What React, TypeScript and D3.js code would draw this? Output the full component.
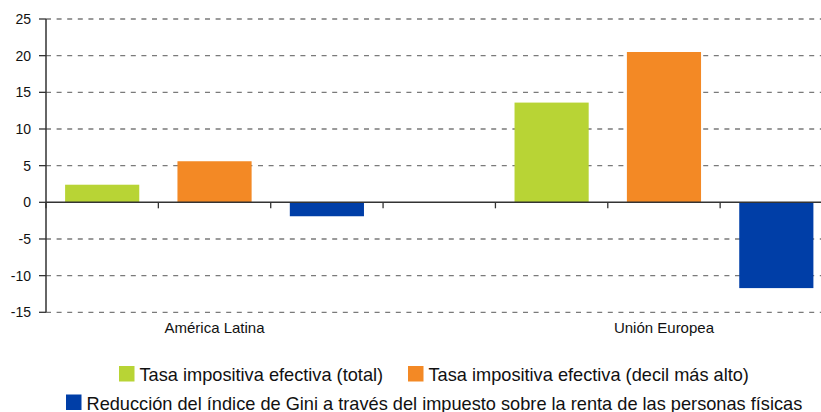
import React, { useEffect, useRef } from 'react';
import * as d3 from 'd3';

// datos
const regions = ['América Latina', 'Unión Europea'];
const seriesNames = [
  'Tasa impositiva efectiva (total)',
  'Tasa impositiva efectiva (decil más alto)',
  'Reducción del índice de Gini a través del impuesto sobre la renta de las personas físicas',
];
const seriesColors = ['#B8D435', '#F38925', '#003EA7'];
const latamValues = [2.4, 5.6, -1.9];
const euValues = [13.6, 20.5, -11.7];
const yTicks = [25, 20, 15, 10, 5, 0, -5, -10, -15];

function drawChart(svgEl: SVGSVGElement) {
  const svg = d3.select(svgEl);
  svg.selectAll('*').remove();

  const w = 821;
  const h = 412;
  const left = 46;
  const right = 832.5; // el grafico original esta recortado a la derecha
  const font = '"Liberation Sans", Arial, sans-serif';

  svg.attr('width', w).attr('height', h).style('display', 'block');

  // 7 huecos: 3 barras, un hueco vacio, 3 barras
  const slots = d3.range(7).map(String);
  const x = d3.scaleBand<string>().domain(slots).range([left, right]).paddingInner(0.34).paddingOuter(0.17);
  const y = d3.scaleLinear().domain([-15, 25]).range([312.3, 19]);

  // rejilla
  svg.append('g')
    .selectAll('line')
    .data(yTicks.filter(t => t !== 0))
    .join('line')
    .attr('x1', left)
    .attr('x2', w)
    .attr('y1', d => y(d))
    .attr('y2', d => y(d))
    .attr('stroke', '#7a7a7a')
    .attr('stroke-width', 1.3)
    .attr('stroke-dasharray', '5,5.6');

  const bars: { slot: string; v: number; c: string }[] = [];
  latamValues.forEach((v, i) => bars.push({ slot: String(i), v, c: seriesColors[i] }));
  euValues.forEach((v, i) => bars.push({ slot: String(i + 4), v, c: seriesColors[i] }));

  svg.append('g')
    .selectAll('rect')
    .data(bars)
    .join('rect')
    .attr('x', d => x(d.slot)!)
    .attr('width', x.bandwidth())
    .attr('y', d => y(Math.max(0, d.v)))
    .attr('height', d => Math.abs(y(d.v) - y(0)))
    .attr('fill', d => d.c);

  // eje y
  const yAxis = svg.append('g');
  yAxis.append('line')
    .attr('x1', left).attr('x2', left)
    .attr('y1', y(25)).attr('y2', y(-15))
    .attr('stroke', '#333').attr('stroke-width', 1.5);
  yAxis.selectAll('line.tick')
    .data(yTicks)
    .join('line')
    .attr('class', 'tick')
    .attr('x1', 39).attr('x2', left)
    .attr('y1', d => y(d)).attr('y2', d => y(d))
    .attr('stroke', '#333').attr('stroke-width', 1.3);
  yAxis.selectAll('text')
    .data(yTicks)
    .join('text')
    .attr('x', 31)
    .attr('y', d => y(d))
    .attr('dy', '0.36em')
    .attr('text-anchor', 'end')
    .attr('font-family', font)
    .attr('font-size', 14)
    .attr('fill', '#111')
    .text(d => String(d));

  // eje x en cero
  const step = x.step();
  svg.append('line')
    .attr('x1', left).attr('x2', w)
    .attr('y1', y(0)).attr('y2', y(0))
    .attr('stroke', '#333').attr('stroke-width', 1.5);
  svg.append('g')
    .selectAll('line')
    .data(d3.range(8))
    .join('line')
    .attr('x1', i => left + i * step)
    .attr('x2', i => left + i * step)
    .attr('y1', y(0))
    .attr('y2', y(0) + 6)
    .attr('stroke', '#333')
    .attr('stroke-width', 1.3);

  // etiquetas de categoria
  svg.append('g')
    .selectAll('text')
    .data(regions)
    .join('text')
    .attr('x', (d, i) => x(String(i * 4 + 1))! + x.bandwidth() / 2)
    .attr('y', 333)
    .attr('text-anchor', 'middle')
    .attr('font-family', font)
    .attr('font-size', 15)
    .attr('fill', '#111')
    .text(d => d);

  // leyenda
  const legendItems = [
    { name: seriesNames[0], color: seriesColors[0], bx: 119, by: 366 },
    { name: seriesNames[1], color: seriesColors[1], bx: 408, by: 366 },
    { name: seriesNames[2], color: seriesColors[2], bx: 66, by: 394.5 },
  ];
  const lg = svg.append('g').selectAll('g').data(legendItems).join('g');
  lg.append('rect')
    .attr('x', d => d.bx).attr('y', d => d.by)
    .attr('width', 15.5).attr('height', 15.5)
    .attr('fill', d => d.color);
  lg.append('text')
    .attr('x', d => d.bx + 20.5)
    .attr('y', d => d.by + 15)
    .attr('font-family', font)
    .attr('font-size', 18.2)
    .attr('fill', '#111')
    .text(d => d.name);
}

export default function App() {
  const ref = useRef<SVGSVGElement>(null);
  useEffect(() => {
    if (ref.current) drawChart(ref.current);
  }, []);
  return (
    <div style={{ position: 'absolute', left: 0, top: 0 }}>
      <svg ref={ref} />
    </div>
  );
}
